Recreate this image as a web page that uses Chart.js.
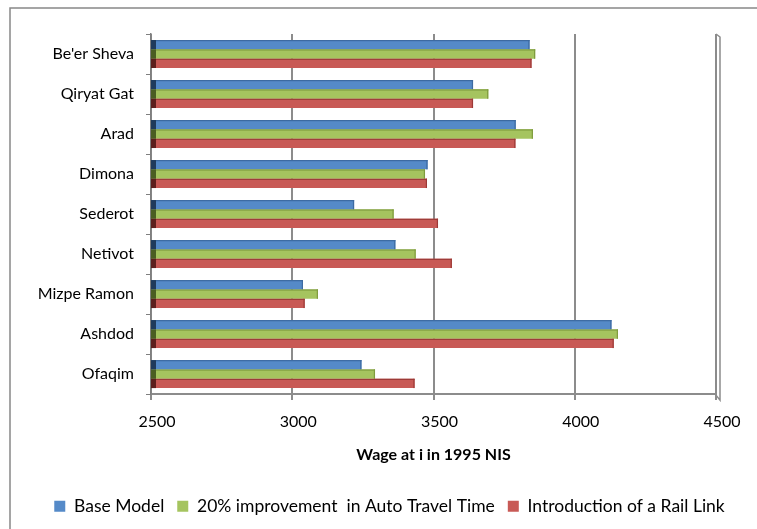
<!DOCTYPE html>
<html>
<head>
<meta charset="utf-8">
<script src="https://cdn.jsdelivr.net/npm/chart.js@4"></script>
<style>
  html, body { margin: 0; padding: 0; background: #fff; }
  #c { display: block; }
</style>
</head>
<body>
<canvas id="c" width="757" height="529"></canvas>
<script>
const categories = ["Be'er Sheva", "Qiryat Gat", "Arad", "Dimona", "Sederot", "Netivot", "Mizpe Ramon", "Ashdod", "Ofaqim"];
const baseModel = [3840, 3640, 3791, 3479, 3219, 3365, 3038, 4130, 3245];
const autoImprovement = [3860, 3694, 3852, 3470, 3359, 3437, 3091, 4153, 3293];
const railLink = [3847, 3640, 3790, 3477, 3516, 3565, 3044, 4138, 3433];
const xTicks = [2500, 3000, 3500, 4000, 4500];
const seriesNames = ["Base Model", "20% improvement  in Auto Travel Time", "Introduction of a Rail Link"];

const FONT = "Lato, 'Open Sans', sans-serif";
const colors = ['#558ac8', '#a5c45f', '#c85a56'];
const darkColors = ['#1f3a5c', '#4a5e22', '#5c1f1d'];
const edgeColors = ['#3d6aa1', '#7f9c3e', '#9c3a37'];

const framePlugin = {
  id: 'frame',
  beforeDraw(chart) {
    const ctx = chart.ctx;
    ctx.save();
    ctx.fillStyle = '#fff';
    ctx.fillRect(0, 0, chart.width, chart.height);
    ctx.strokeStyle = '#888';
    ctx.lineWidth = 1.5;
    ctx.beginPath();
    ctx.moveTo(10, chart.height + 5);
    ctx.lineTo(10, 8);
    ctx.lineTo(chart.width + 5, 8);
    ctx.stroke();
    ctx.restore();
  },
  afterDraw(chart) {
    const a = chart.chartArea;
    const ctx = chart.ctx;
    ctx.save();
    ctx.strokeStyle = '#8c8c8c';
    ctx.lineWidth = 1.5;
    ctx.beginPath();
    ctx.moveTo(a.right, a.top);
    ctx.lineTo(a.right + 4, a.top + 3);
    ctx.lineTo(a.right + 4, a.bottom + 6);
    ctx.lineTo(a.right, a.bottom + 1);
    ctx.stroke();
    ctx.restore();
  },
  afterDatasetsDraw(chart) {
    const ctx = chart.ctx;
    const xs = chart.scales.x;
    const basePx = xs.getPixelForValue(xs.min);
    ctx.save();
    chart.data.datasets.forEach((ds, di) => {
      const meta = chart.getDatasetMeta(di);
      meta.data.forEach(bar => {
        const p = bar.getProps(['x', 'y', 'height'], true);
        const top = p.y - p.height / 2;
        ctx.fillStyle = darkColors[di];
        ctx.fillRect(basePx, top, 5, p.height);
        ctx.fillStyle = edgeColors[di];
        ctx.fillRect(basePx + 5, top, p.x - basePx - 5, 1.2);
        ctx.fillRect(p.x - 1.2, top, 1.2, p.height);
      });
    });
    ctx.restore();
  }
};

new Chart(document.getElementById('c'), {
  type: 'bar',
  data: {
    labels: categories,
    datasets: [
      { label: seriesNames[0], data: baseModel, backgroundColor: colors[0] },
      { label: seriesNames[1], data: autoImprovement, backgroundColor: colors[1] },
      { label: seriesNames[2], data: railLink, backgroundColor: colors[2] }
    ]
  },
  options: {
    indexAxis: 'y',
    responsive: false,
    animation: false,
    devicePixelRatio: 1,
    layout: { padding: { left: 22, right: 0, top: 34, bottom: 4 } },
    datasets: { bar: { categoryPercentage: 0.7, barPercentage: 1.0, borderWidth: 0 } },
    scales: {
      x: {
        min: 2500,
        max: 4500,
        afterBuildTicks(scale) { scale.ticks = xTicks.map(v => ({ value: v })); },
        ticks: { font: { family: FONT, size: 16 }, color: '#000', padding: 12, labelOffset: 6, callback: v => String(v) },
        grid: { color: '#8c8c8c', lineWidth: 2, tickLength: 6, tickColor: '#8c8c8c' },
        border: { display: true, color: '#8c8c8c', width: 2 },
        title: { display: true, text: 'Wage at i in 1995 NIS', font: { family: FONT, size: 16, weight: 'bold' }, color: '#000', padding: { top: 2, bottom: 20 } }
      },
      y: {
        afterFit(scale) { scale.width = 129; },
        ticks: { font: { family: FONT, size: 16 }, color: '#000', padding: 12 },
        grid: { drawOnChartArea: false, tickLength: 5, color: '#7f7f7f', offset: true },
        border: { display: true, color: '#7f7f7f', width: 1.5 }
      },
      yRight: {
        type: 'category',
        position: 'right',
        afterFit(scale) { scale.width = 41; },
        ticks: { display: false },
        grid: { display: false },
        border: { display: false }
      }
    },
    plugins: {
      legend: {
        position: 'bottom',
        labels: { font: { family: FONT, size: 17.5 }, color: '#000', boxWidth: 11, boxHeight: 11, padding: 13 }
      },
      tooltip: { enabled: false }
    }
  },
  plugins: [framePlugin]
});
</script>
</body>
</html>
